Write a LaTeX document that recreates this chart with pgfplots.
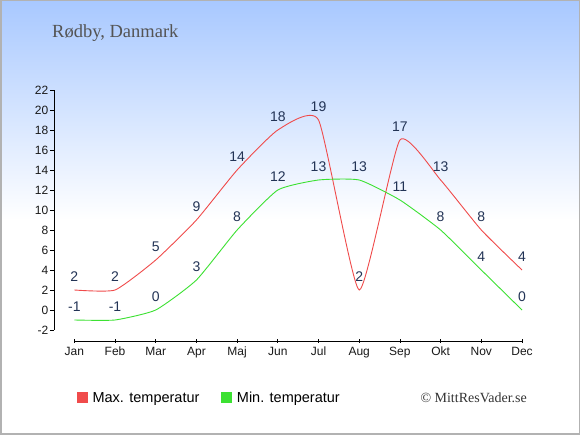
\documentclass[border=0pt]{standalone}
\usepackage{pgfplots}
\pgfplotsset{compat=1.18}
\usepackage{fontspec}
\setmainfont{Liberation Sans}
\newfontfamily\seriffont{Liberation Serif}
\definecolor{maxc}{RGB}{240,75,75}
\definecolor{minc}{RGB}{60,225,50}
\definecolor{lab}{RGB}{34,51,85}
\definecolor{bgtop}{RGB}{168,200,255}
\begin{document}
\begin{tikzpicture}[x=1pt,y=1pt]
\useasboundingbox (0,0) rectangle (580,435);
\fill[white] (0,0) rectangle (580,435);
\shade[top color=bgtop, bottom color=white] (0,215) rectangle (580,435);
\draw[black!30, line width=1.5pt] (0.75,0.75) rectangle (579.25,434.25);
\node[anchor=base west, font=\seriffont\fontsize{18.5}{22}\selectfont, text=black!67, inner sep=0pt] at (52,397) {Rødby, Danmark};
\node[anchor=base east, font=\seriffont\fontsize{14}{16}\selectfont, text=black!80, inner sep=0pt] at (527,32) {© MittResVader.se};
\begin{axis}[
  at={(54pt,94pt)}, anchor=south west,
  scale only axis, width=468pt, height=251pt,
  xmin=-0.5, xmax=11, ymin=-3.1, ymax=22,
  axis lines*=left, axis line style={draw=none},
  xtick={0,...,11},
  xticklabels={Jan,Feb,Mar,Apr,Maj,Jun,Jul,Aug,Sep,Okt,Nov,Dec},
  ytick={-2,0,...,22},
  tick align=outside, major tick length=4pt,
  tick style={black, line width=0.8pt},
  x tick style={yshift=2pt},
  /pgf/number format/assume math mode=true,
  tick label style={font=\fontsize{12}{14}\selectfont, text=black!90},
  yticklabel style={inner sep=1.5pt},
  xticklabel style={inner sep=2pt},
  clip=false,
  nodes near coords,
  nodes near coords style={font=\fontsize{14}{16}\selectfont, text=lab, anchor=center, yshift=13pt},
  legend columns=2,
  legend image code/.code={\fill[#1, draw=none] (0pt,-5.5pt) rectangle (11pt,5.5pt); \path (13pt,0pt);},
  legend style={at={(axis description cs:0.049,-0.227)}, anchor=west, draw=none, fill=none,
    font=\fontsize{14.5}{16}\selectfont, inner sep=0pt,
    /tikz/every even column/.append style={column sep=20pt}},
]
\draw[black, line width=0.8pt] (axis cs:0,-3.1) -- (axis cs:11,-3.1);
\draw[black, line width=0.8pt] (axis cs:-0.5,-2) -- (axis cs:-0.5,22);
\addplot[color=maxc, line width=0.9pt, smooth, tension=0.3, mark=none]
  coordinates {(0,2) (1,2) (2,5) (3,9) (4,14) (5,18) (6,19) (7,2) (8,17) (9,13) (10,8) (11,4)};
\addlegendentry{Max. temperatur}
\addplot[color=minc, line width=0.9pt, smooth, tension=0.3, mark=none]
  coordinates {(0,-1) (1,-1) (2,0) (3,3) (4,8) (5,12) (6,13) (7,13) (8,11) (9,8) (10,4) (11,0)};
\addlegendentry{Min. temperatur}
\end{axis}
\end{tikzpicture}
\end{document}
